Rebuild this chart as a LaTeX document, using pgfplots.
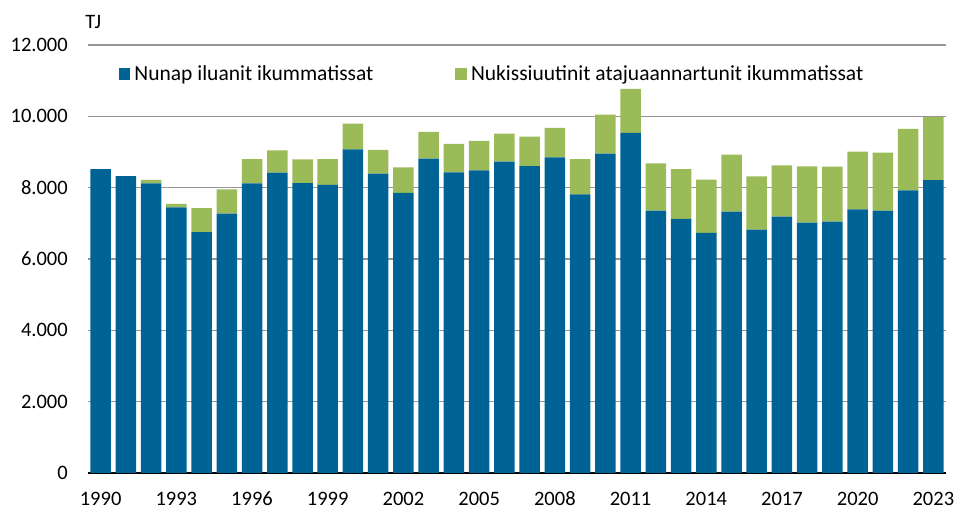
\documentclass[border=0pt]{standalone}
\usepackage{pgfplots}
\usepackage{pgfplotstable}
\pgfplotsset{compat=1.18}
\usepackage{fontspec}
\setmainfont{Carlito}
\definecolor{cblue}{RGB}{0,99,149}
\definecolor{cgreen}{RGB}{155,187,89}
\definecolor{cgrid}{RGB}{150,150,150}
\pgfplotstableread{
year blue green
1990 8520 0
1991 8325 0
1992 8120 100
1993 7445 100
1994 6750 675
1995 7275 675
1996 8120 683
1997 8420 627
1998 8128 666
1999 8081 722
2000 9075 722
2001 8391 665
2002 7856 713
2003 8813 750
2004 8428 797
2005 8484 825
2006 8728 788
2007 8606 825
2008 8850 825
2009 7809 994
2010 8953 1097
2011 9534 1238
2012 7359 1322
2013 7125 1397
2014 6731 1491
2015 7331 1594
2016 6825 1491
2017 7191 1434
2018 7022 1575
2019 7050 1538
2020 7388 1621
2021 7359 1622
2022 7922 1725
2023 8213 1762
}\datatable
\begin{document}
\fontsize{10.25pt}{12pt}\selectfont
\begin{tikzpicture}
\path[use as bounding box] (-44pt,-17.5pt) rectangle (435pt,236.5pt);
\begin{axis}[
  at={(0,0)}, anchor=south west,
  scale only axis,
  width=429pt, height=214pt,
  ybar stacked,
  bar width=10.25pt,
  xmin=1989.5, xmax=2023.5,
  ymin=0, ymax=12000,
  xtick={1990,1993,...,2023},
  ytick={0,2000,...,12000},
  axis lines*=left,
  y axis line style={draw=none},
  x axis line style={black, line width=1.1pt},
  major tick length=0pt,
  ymajorgrids,
  grid style={cgrid, line width=0.8pt},
  /pgf/number format/assume math mode=true,
  xticklabel style={/pgf/number format/1000 sep={}, text height=7pt, text depth=0pt, yshift=-5.6pt},
  yticklabel style={/pgf/number format/1000 sep={.}, xshift=-6.5pt},
  scaled y ticks=false,
  legend style={draw=none, fill=none, legend columns=2, anchor=west,
    at={(0.036,0.932)}, inner sep=0pt, outer sep=0pt,
    /tikz/every even column/.append style={column sep=39pt},
    font=\fontsize{10.75pt}{12pt}\selectfont},
  legend cell align=left,
  legend image code/.code={\fill[#1] (0pt,-2.9pt) rectangle (5.8pt,2.9pt);},
]
\addplot[fill=cblue, draw=none] table[x=year, y=blue] {\datatable};
\addplot[fill=cgreen, draw=none] table[x=year, y=green] {\datatable};
\legend{Nunap iluanit ikummatissat, Nukissiuutinit atajuaannartunit ikummatissat}
\end{axis}
\node[anchor=south west, inner sep=0pt] at (-1.5pt,222pt) {TJ};
\end{tikzpicture}
\end{document}
